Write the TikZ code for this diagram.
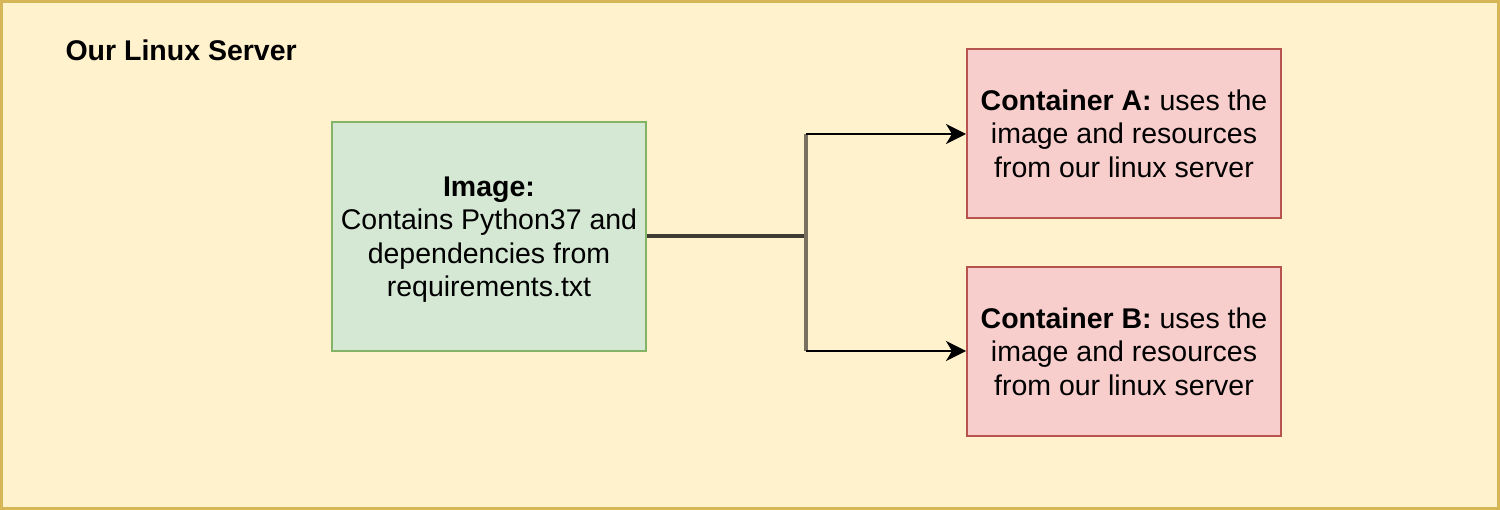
\documentclass[tikz,border=0pt]{standalone}
\usepackage{fontspec}
\setmainfont{Liberation Sans}
\usetikzlibrary{arrows.meta}
\definecolor{outerfill}{HTML}{FFF2CC}
\definecolor{outerdraw}{HTML}{D6B656}
\definecolor{greenfill}{HTML}{D5E8D4}
\definecolor{greendraw}{HTML}{82B366}
\definecolor{redfill}{HTML}{F8CECC}
\definecolor{reddraw}{HTML}{B85450}
\definecolor{trunk}{HTML}{3F3C33}
\definecolor{branch}{HTML}{7A7060}
\tikzset{
  box/.style={draw, line width=2pt, minimum width=314pt, align=center, inner sep=0pt,
    font=\fontsize{28.5}{33.5}\selectfont},
  imgbox/.style={box, fill=greenfill, draw=greendraw, minimum height=229pt},
  contbox/.style={box, fill=redfill, draw=reddraw, minimum height=169pt},
  arr/.style={line width=2.2pt, -{Stealth[length=20pt,width=20pt,inset=6pt]}},
}
\begin{document}
\begin{tikzpicture}[x=1pt,y=-1pt]
\useasboundingbox (0,0) rectangle (1500,510);
\fill[outerfill, draw=outerdraw, line width=3pt] (1.5,1.5) rectangle (1498.5,508.5);
\node[anchor=west, font=\fontsize{28.5}{33}\selectfont\bfseries] (title) at (62,50) {Our Linux Server};
\node[imgbox, text depth=0pt] (img) at (489,236.5) {\textbf{Image:}\\Contains Python37 and\\dependencies from\\requirements.txt};
\node[contbox] (ca) at (1124,133.5) {\textbf{Container A:} uses the\\image and resources\\from our linux server};
\node[contbox] (cb) at (1124,351.5) {\textbf{Container B:} uses the\\image and resources\\from our linux server};
\coordinate (j) at (806,236);
\coordinate (jt) at (806,134);
\coordinate (jb) at (806,351);
\draw[trunk, line width=3.5pt] (img.east |- j) -- (j);
\draw[branch, line width=3.5pt] (jt) -- (jb);
\draw[arr] (jt) -- (ca.west |- jt);
\draw[arr] (jb) -- (cb.west |- jb);
\end{tikzpicture}
\end{document}
